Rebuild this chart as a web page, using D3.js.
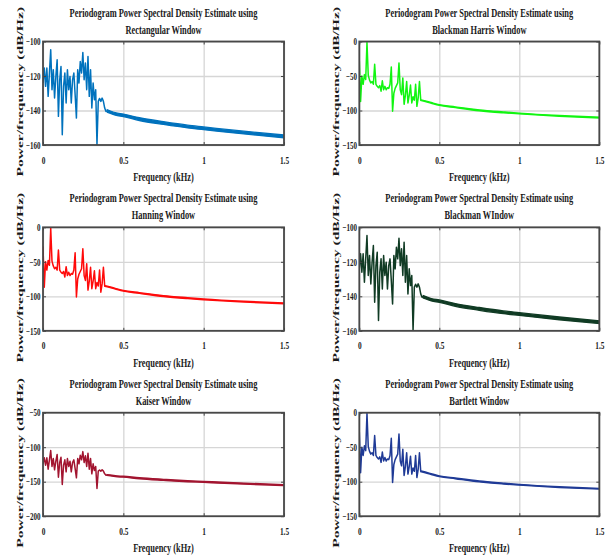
<!DOCTYPE html>
<html>
<head>
<meta charset="utf-8">
<script src="https://cdn.jsdelivr.net/npm/d3@7"></script>
<style>
  body { margin: 0; background: #fff; }
  svg { display: block; }
  text { font-family: "Liberation Serif", "Times New Roman", serif; font-weight: bold; fill: #1a1a1a; }
</style>
</head>
<body>
<svg id="chart" width="612" height="560"></svg>
<script>
// spacing of the frequency bins in the noisy low band (kHz)
const binStep = 0.008;

// Rectangular, Blackman and Kaiser panels show the same estimate (dB/Hz)
const psdA = [-124, -115.4, -126, -115.4, -131.8, -118.3, -104.8, -127.9, -116.4, -132.8,
  -120.3, -110.6, -143.4, -122.2, -114.5, -154, -126, -118.3, -135.7, -116.4,
  -127.9, -120.3, -135.7, -122.2, -118.3, -130.9, -144.4, -116.4, -124.1, -111.6,
  -118.3, -106.4, -122.2, -112.5, -127.9, -108.7, -131.8, -116.4, -138.6, -124.1,
  -133.8, -128, -159.8, -134.7, -133, -134.7, -132.8, -134.7, -138.6, -140.5];
const psdATailFreq = [0.40, 0.42, 0.45, 0.5, 0.6, 0.75, 0.9, 1.0, 1.25, 1.5];
const psdATailHi = [-139.6, -140.3, -141.3, -142.1, -144.2, -146.5, -148.5, -149.5, -152.0, -154.2];
const psdATailLo = [-141.0, -141.7, -142.7, -143.5, -145.8, -148.1, -150.1, -151.1, -153.6, -155.8];

// Blackman Harris, Hanning and Bartlett panels show the same estimate
const psdB = [-28, -87, -50, -62, -48, -55, -1, -49, -56, -60,
  -58, -62, -33, -62, -65, -67, -64, -72, -57, -70,
  -65, -70, -67, -68, -62, -37, -101, -75, -68, -64,
  -60, -31, -70, -77, -53, -91, -78, -58, -89, -78,
  -63, -89, -80, -85, -62, -94, -82, -58];
const psdBTailFreq = [0.384, 0.4, 0.45, 0.5, 0.6, 0.75, 0.9, 1.0, 1.25, 1.5];
const psdBTailHi = [-84.5, -85.2, -88.4, -91.4, -94.6, -99.0, -102.0, -103.8, -107.2, -109.6];
const psdBTailLo = [-85.5, -86.4, -89.6, -92.6, -95.8, -100.4, -103.4, -105.0, -108.4, -110.8];

const windowNames = ["Rectangular Window", "Blackman Harris Window", "Hanning Window",
  "Blackman WIndow", "Kaiser Window", "Bartlett Window"];
const yDomains = [[-160, -100], [-150, 0], [-150, 0], [-160, -100], [-200, -50], [-150, 0]];
const yTickValues = [[-160, -140, -120, -100], [-150, -100, -50, 0], [-150, -100, -50, 0],
  [-160, -140, -120, -100], [-200, -150, -100, -50], [-150, -100, -50, 0]];
const xTickValues = [0, 0.5, 1, 1.5];
const xTickLabels = ["0", "0.5", "1", "1.5"];
const lineColors = ["#0072bd", "#11f511", "#ff0a0a", "#103b24", "#a2142f", "#1f3a96"];

const shapes = {
  A: { noise: psdA, tf: psdATailFreq, hi: psdATailHi, lo: psdATailLo },
  B: { noise: psdB, tf: psdBTailFreq, hi: psdBTailHi, lo: psdBTailLo }
};
const panelShape = ["A", "B", "B", "A", "A", "B"];

// layout
const colLeft = [43, 359.3], colWidth = [241, 240];
const rowTop = [41.5, 227.3, 412.7], plotH = 103.5;
const sx = 0.7; // the figure is squeezed sideways

const svg = d3.select("#chart");

windowNames.forEach((name, i) => {
  const col = i % 2, row = Math.floor(i / 2);
  const w = colWidth[col], h = plotH;
  const x = d3.scaleLinear().domain([0, 1.5]).range([0, w]);
  const y = d3.scaleLinear().domain(yDomains[i]).range([h, 0]);
  const g = svg.append("g").attr("transform", `translate(${colLeft[col]},${rowTop[row]})`);

  // grid
  g.append("g").attr("transform", `translate(0,${h})`)
    .call(d3.axisBottom(x).tickValues(xTickValues).tickSize(-h).tickFormat(""))
    .call(s => s.select(".domain").remove())
    .selectAll("line").attr("stroke", "#d6d6d6").attr("stroke-width", 1.3);
  g.append("g")
    .call(d3.axisLeft(y).tickValues(yTickValues[i]).tickSize(-w).tickFormat(""))
    .call(s => s.select(".domain").remove())
    .selectAll("line").attr("stroke", "#d6d6d6").attr("stroke-width", 1.3);

  // data
  const clipId = "clip" + i;
  g.append("clipPath").attr("id", clipId).append("rect").attr("width", w).attr("height", h);
  const plot = g.append("g").attr("clip-path", `url(#${clipId})`);
  const s = shapes[panelShape[i]];
  const pts = s.noise.map((v, k) => [k * binStep, v]);
  pts.push([s.tf[0], (s.hi[0] + s.lo[0]) / 2]);
  plot.append("path").datum(pts)
    .attr("fill", "none").attr("stroke", lineColors[i]).attr("stroke-width", 1.5)
    .attr("stroke-linejoin", "round")
    .attr("d", d3.line().x(d => x(d[0])).y(d => y(d[1])));
  plot.append("path").datum(s.tf.map((f, k) => k))
    .attr("fill", lineColors[i]).attr("stroke", lineColors[i]).attr("stroke-width", 1.3)
    .attr("d", d3.area().curve(d3.curveMonotoneX)
      .x(k => x(s.tf[k])).y0(k => y(s.lo[k])).y1(k => y(s.hi[k])));

  // box and inward ticks
  g.append("g").attr("transform", `translate(0,${h})`)
    .call(d3.axisBottom(x).tickValues(xTickValues).tickSize(-3).tickFormat((d, k) => xTickLabels[k]))
    .call(a => a.select(".domain").remove())
    .call(a => a.selectAll("line").attr("stroke", "#444"))
    .selectAll("text").attr("y", 18.6).attr("dy", null)
    .style("font-size", "10.5px").attr("transform", `scale(${sx},1)`);
  g.append("g")
    .call(d3.axisTop(x).tickValues(xTickValues).tickSize(-3).tickFormat(""))
    .call(a => a.select(".domain").remove())
    .selectAll("line").attr("stroke", "#444");
  g.append("g")
    .call(d3.axisLeft(y).tickValues(yTickValues[i]).tickSize(-3).tickPadding(2.4))
    .call(a => a.select(".domain").remove())
    .call(a => a.selectAll("line").attr("stroke", "#444"))
    .selectAll("text").attr("x", -2.4 / sx)
    .style("font-size", "10px").attr("transform", `scale(${sx},1)`);
  g.append("g").attr("transform", `translate(${w},0)`)
    .call(d3.axisRight(y).tickValues(yTickValues[i]).tickSize(-3).tickFormat(""))
    .call(a => a.select(".domain").remove())
    .selectAll("line").attr("stroke", "#444");
  g.append("rect").attr("width", w).attr("height", h)
    .attr("fill", "none").attr("stroke", "#484848").attr("stroke-width", 1.8);

  // titles and labels
  const title = g.append("g").attr("transform", `translate(${w / 2},0) scale(${sx},1)`)
    .attr("text-anchor", "middle").style("font-size", "12px");
  title.append("text").attr("y", -25).text("Periodogram Power Spectral Density Estimate using");
  title.append("text").attr("y", -8).text(name);

  g.append("text").attr("transform", `translate(${w / 2},${h + 36}) scale(${sx},1)`)
    .attr("text-anchor", "middle").style("font-size", "12px").text("Frequency (kHz)");

  g.append("text").attr("transform", `translate(-20.5,${h / 2 - 1.5}) rotate(-90) scale(1.2,0.68)`)
    .attr("text-anchor", "middle").style("font-size", "13px").text("Power/frequency (dB/Hz)");
});
</script>
</body>
</html>
